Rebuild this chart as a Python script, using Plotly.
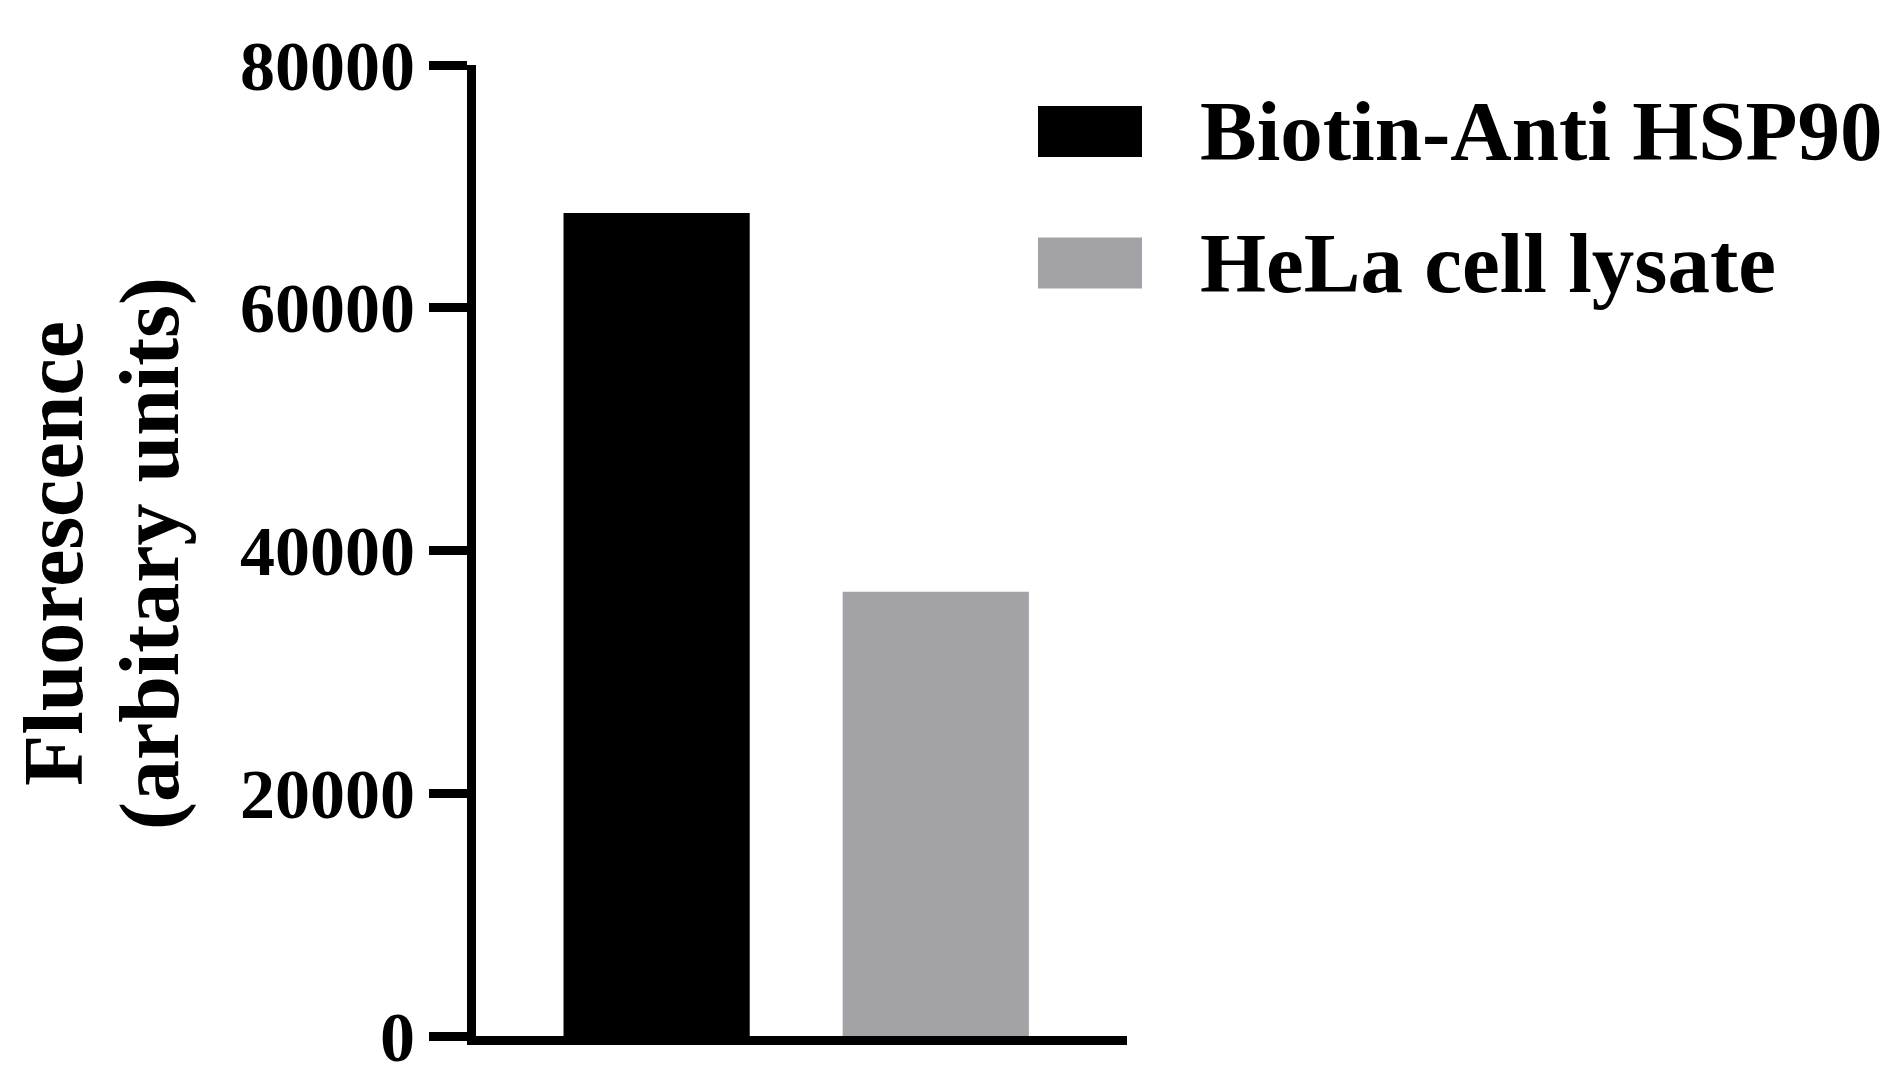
import plotly.graph_objects as go

series = ["Biotin-Anti HSP90", "HeLa cell lysate"]
values = [67800, 36600]
colors = ["#000000", "#a3a2a7"]
y_ticks = [0, 20000, 40000, 60000, 80000]
title_lines = ["Fluorescence", "(arbitary units)"]

W, H = 1894, 1081
L, R, T, B = 468, 1119, 57, 1028  # plot area in pixels
pw, ph = R - L, B - T
LW = 9

def px_x(x):
    return (x - L) / pw

def px_y(y):
    return (B - y) / ph

fig = go.Figure()
for i, (name, v, c) in enumerate(zip(series, values, colors)):
    fig.add_trace(go.Bar(x=[i], y=[v], name=name, marker_color=c, marker_line_width=0,
                         width=0.667, showlegend=False))

font = dict(family="Liberation Serif", color="black", weight="bold")

# legend drawn by hand so the swatches can be large
leg_y = [123.5, 255]
for name, c, yc in zip(series, colors, leg_y):
    fig.add_shape(type="rect", xref="paper", yref="paper",
                  x0=px_x(1030), x1=px_x(1134), y0=px_y(yc + 25.5), y1=px_y(yc - 25.5),
                  fillcolor=c, line_width=0)
    fig.add_annotation(text=name, xref="paper", yref="paper", x=px_x(1190), y=px_y(yc),
                       xanchor="left", yanchor="middle", showarrow=False,
                       font=dict(font, size=85))

# y axis title, two rotated lines
for line, xc in zip(title_lines, [45, 142]):
    fig.add_annotation(text=line, xref="paper", yref="paper", x=px_x(xc), y=px_y(546),
                       xanchor="center", yanchor="middle", textangle=-90, showarrow=False,
                       font=dict(font, size=84))

fig.update_layout(
    width=W, height=H,
    margin=dict(l=L, r=W - R, t=T, b=H - B),
    plot_bgcolor="white", paper_bgcolor="white",
    barmode="overlay",
    xaxis=dict(range=[-0.647, 1.685], showticklabels=False, ticks="", showgrid=False,
               zeroline=False, showline=True, linecolor="black", linewidth=LW),
    yaxis=dict(range=[0, 80000], tickvals=y_ticks, ticktext=[str(t) for t in y_ticks],
               ticks="outside", ticklen=38, tickwidth=LW, tickcolor="black",
               showgrid=False, zeroline=False, showline=True, linecolor="black", linewidth=LW,
               tickfont=dict(font, size=70)),
)

fig.write_html("out.html")
